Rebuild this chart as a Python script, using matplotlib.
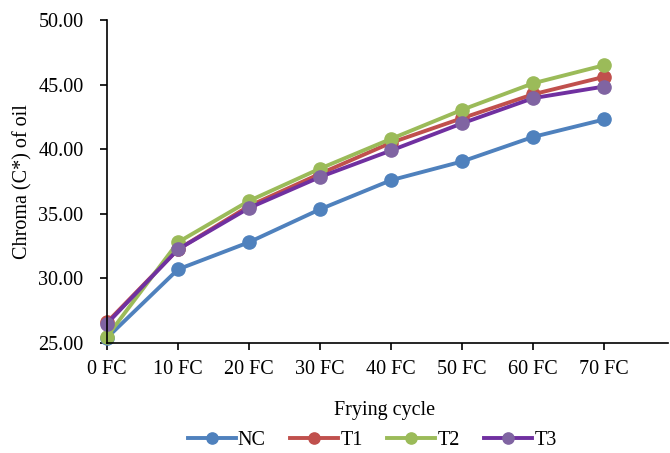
import matplotlib.pyplot as plt
import matplotlib.ticker as mticker

plt.rcParams['font.family'] = ['Liberation Serif', 'DejaVu Serif']

cycles = ["0 FC", "10 FC", "20 FC", "30 FC", "40 FC", "50 FC", "60 FC", "70 FC"]
nc = [25.4, 30.7, 32.8, 35.35, 37.6, 39.05, 40.95, 42.3]
t1 = [26.6, 32.25, 35.6, 38.1, 40.5, 42.4, 44.25, 45.6]
t2 = [25.5, 32.8, 36.0, 38.5, 40.8, 43.05, 45.1, 46.5]
t3 = [26.5, 32.25, 35.45, 37.85, 39.9, 42.0, 43.95, 44.85]

series = [
    ("NC", nc, "#4F81BD", "#4F81BD"),
    ("T1", t1, "#C0504D", "#C0504D"),
    ("T2", t2, "#9BBB59", "#9BBB59"),
    ("T3", t3, "#7030A0", "#8064A2"),
]

fig = plt.figure(figsize=(6.7, 4.53), dpi=100)
ax = fig.add_axes([107 / 670, 1 - 343 / 453, (668 - 107) / 670, (343 - 20) / 453])

x = list(range(len(cycles)))
for name, vals, lc, mc in series:
    ax.plot(x, vals, color=lc, lw=2.8, marker="o", markersize=9.5,
            markerfacecolor=mc, markeredgecolor=mc, label=name, clip_on=False)

ax.set_xlim(0, 7.9)
ax.set_ylim(25, 50)
ax.set_xticks(x)
ax.set_xticklabels(cycles)
ax.yaxis.set_major_locator(mticker.MultipleLocator(5))
ax.yaxis.set_major_formatter(mticker.FormatStrFormatter("%.2f"))
ax.tick_params(direction="out", length=5, width=1.2, labelsize=14.5)
ax.tick_params(axis="y", pad=12)
ax.tick_params(axis="x", pad=7)
for s in ["top", "right"]:
    ax.spines[s].set_visible(False)
for s in ["left", "bottom"]:
    ax.spines[s].set_linewidth(1.2)

ax.set_ylabel("Chroma (C*) of oil", fontsize=14.5, labelpad=4)
fig.text(385 / 670, 1 - 411 / 453, "Frying cycle", fontsize=14.5, ha="center", va="center")
fig.legend(*ax.get_legend_handles_labels(), loc="center", bbox_to_anchor=(372 / 670, 1 - 440 / 453),
           ncol=4, frameon=False, fontsize=14.5, handlelength=2.4, handletextpad=0.1,
           columnspacing=1.2, markerscale=0.85, borderaxespad=0, borderpad=0)

fig.savefig("out.png", dpi=100)
